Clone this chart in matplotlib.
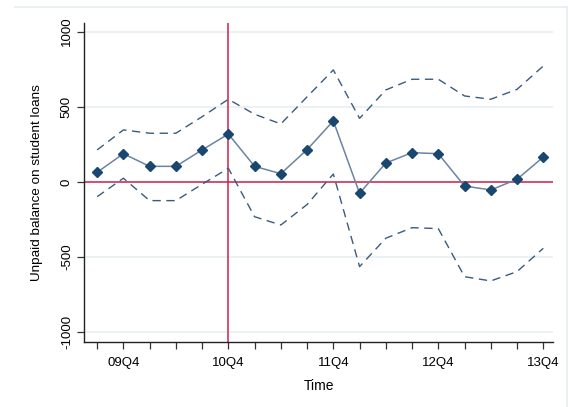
import matplotlib
matplotlib.use("Agg")
import matplotlib.pyplot as plt
from matplotlib.lines import Line2D

plt.rcParams['font.family'] = ['Liberation Sans', 'DejaVu Sans']

quarters = ["09Q3", "09Q4", "10Q1", "10Q2", "10Q3", "10Q4", "11Q1", "11Q2", "11Q3",
            "11Q4", "12Q1", "12Q2", "12Q3", "12Q4", "13Q1", "13Q2", "13Q3", "13Q4"]
estimate = [64, 188, 104, 104, 213, 319, 104, 55, 215,
            406, -75, 126, 195, 188, -27, -53, 18, 166]
upper_ci = [213, 346, 324, 324, 434, 550, 450, 386, 566,
            745, 423, 612, 683, 683, 572, 550, 616, 771]
lower_ci = [-98, 25, -124, -124, -15, 91, -231, -286, -150,
            53, -563, -374, -304, -310, -630, -658, -596, -441]
yticks = [-1000, -500, 0, 500, 1000]
event_quarter = "10Q4"

W, H = 568, 407
fig = plt.figure(figsize=(W / 100, H / 100), dpi=100)
ax = fig.add_axes([84 / W, 1 - 342 / H, (553 - 84) / W, (342 - 22.7) / H])

x = list(range(len(quarters)))
navy = "#1a476f"
ax.plot(x, upper_ci, color="#3b5b7d", lw=1.0, ls=(0, (6, 4)), zorder=3)
ax.plot(x, lower_ci, color="#3b5b7d", lw=1.0, ls=(0, (6, 4)), zorder=3)
ax.plot(x, estimate, color="#6b84a0", lw=1.1, zorder=4)
ax.plot(x, estimate, ls="none", marker="D", ms=5, color=navy, zorder=5)

red = "#d2204c"
ax.axhline(0, color=red, lw=1.1, zorder=2)
ax.axvline(quarters.index(event_quarter), color=red, lw=1.1, zorder=2)

ax.set_xlim(-0.5, 17.37)
ax.set_ylim(-1064, 1059)

ax.set_yticks(yticks)
ax.set_yticklabels([str(v) for v in yticks], rotation=90, va="center", fontsize=9.5)
ax.yaxis.grid(True, color="#e9f0f0", lw=1.2, zorder=0)
ax.set_axisbelow(True)

major = [i for i, q in enumerate(quarters) if q.endswith("Q4")]
ax.set_xticks(major)
ax.set_xticklabels([quarters[i] for i in major], fontsize=9.5)
ax.set_xticks([i for i in x if i not in major], minor=True)
ax.tick_params(axis="x", which="both", length=5, width=0.9, color="#333333", pad=6)
ax.tick_params(axis="y", length=5, width=0.9, color="#333333", pad=3)

for s in ["top", "right"]:
    ax.spines[s].set_visible(False)
for s in ["left", "bottom"]:
    ax.spines[s].set_color("#222222")
    ax.spines[s].set_linewidth(1.0)

ax.set_ylabel("Unpaid balance on student loans", fontsize=9.7, labelpad=13)
ax.set_xlabel("Time", fontsize=10, labelpad=7)

# faint outer frame of graph region
fig.add_artist(Line2D([15 / W, 1.0], [1 - 7 / H, 1 - 7 / H], transform=fig.transFigure,
                      color="#e6ecee", lw=1.2))
fig.add_artist(Line2D([566.5 / W, 566.5 / W], [0, 1 - 7 / H], transform=fig.transFigure,
                      color="#e6ecee", lw=1.2))

fig.savefig("out.png", dpi=100, facecolor="white")
